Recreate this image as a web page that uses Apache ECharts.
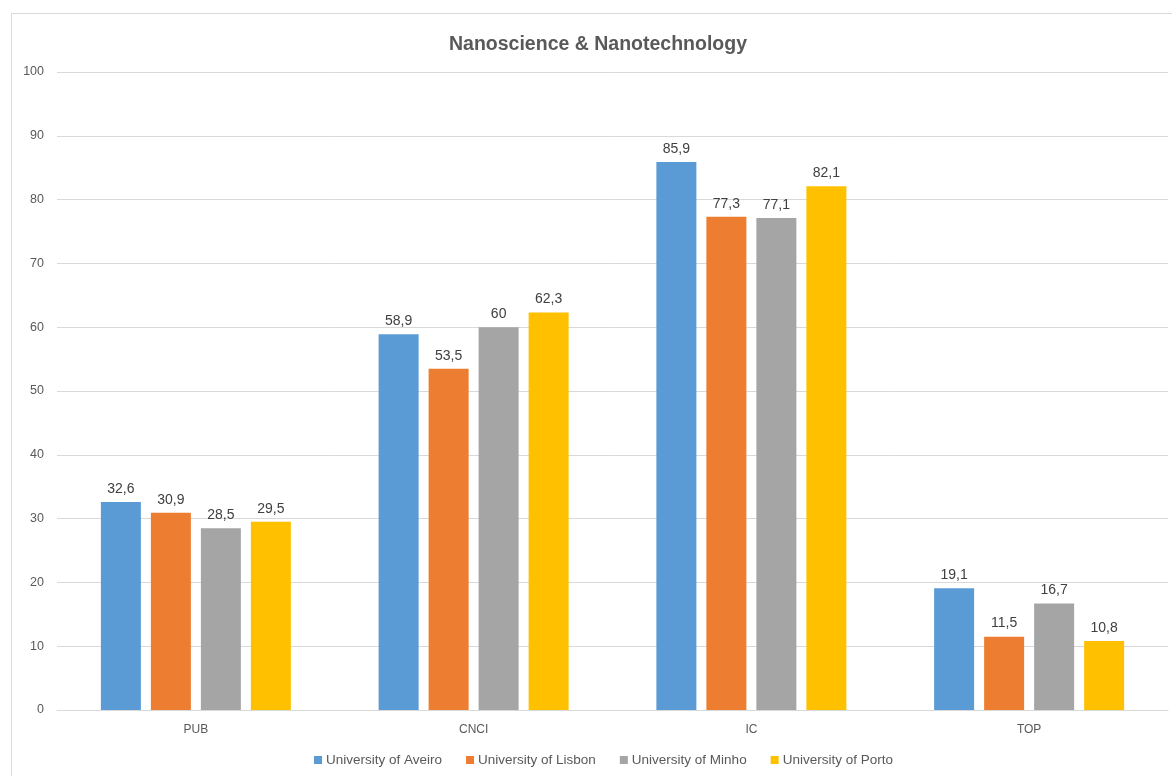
<!DOCTYPE html>
<html>
<head>
<meta charset="utf-8">
<script src="https://cdn.jsdelivr.net/npm/echarts@6/dist/echarts.min.js"></script>
<style>html,body{margin:0;padding:0;background:#fff}#c{width:1172px;height:776px}</style>
</head>
<body>
<div id="c"></div>
<script>
const categories = ['PUB', 'CNCI', 'IC', 'TOP'];
const seriesNames = ['University of Aveiro', 'University of Lisbon', 'University of Minho', 'University of Porto'];
const aveiro = [32.6, 58.9, 85.9, 19.1];
const lisbon = [30.9, 53.5, 77.3, 11.5];
const minho = [28.5, 60, 77.1, 16.7];
const porto = [29.5, 62.3, 82.1, 10.8];
const colors = ['#5B9BD5', '#ED7D31', '#A5A5A5', '#FFC000'];
const font = "'Liberation Sans', Arial, sans-serif";

const values = [aveiro, lisbon, minho, porto];
const chart = echarts.init(document.getElementById('c'), null, {renderer: 'canvas'});
chart.setOption({
  animation: false,
  backgroundColor: '#fff',
  graphic: [{
    type: 'rect', x: 0, y: 0, z: -1,
    shape: {x: 11.5, y: 13.5, width: 1200, height: 800},
    style: {fill: 'none', stroke: '#d9d9d9', lineWidth: 1}
  }],
  title: {
    text: 'Nanoscience & Nanotechnology',
    left: 593, top: 30, textAlign: 'center',
    textStyle: {fontFamily: font, fontSize: 19.5, fontWeight: 'bold', color: '#595959'}
  },
  legend: {
    bottom: 4, left: 309,
    itemWidth: 8, itemHeight: 8, itemGap: 24, icon: 'rect',
    textStyle: {fontFamily: font, fontSize: 13.5, color: '#595959', padding: [0, 0, 0, -1]},
    data: seriesNames
  },
  grid: {left: 57, right: 4, top: 72, bottom: 66, containLabel: false},
  xAxis: {
    type: 'category', data: categories,
    axisLine: {lineStyle: {color: '#d9d9d9', width: 1}},
    axisTick: {show: false},
    axisLabel: {fontFamily: font, fontSize: 12, color: '#595959', margin: 14}
  },
  yAxis: {
    type: 'value', min: 0, max: 100, interval: 10,
    axisLine: {show: false}, axisTick: {show: false},
    axisLabel: {fontFamily: font, fontSize: 12.5, color: '#595959', margin: 13},
    splitLine: {lineStyle: {color: '#d9d9d9', width: 1}}
  },
  series: seriesNames.map((n, i) => ({
    name: n, type: 'bar', data: values[i],
    barWidth: 40, barGap: '25%',
    itemStyle: {color: colors[i]},
    label: {
      show: true, position: 'top', distance: 6,
      fontFamily: font, fontSize: 14, color: '#404040',
      formatter: p => String(p.value).replace('.', ',')
    }
  }))
});
</script>
</body>
</html>
